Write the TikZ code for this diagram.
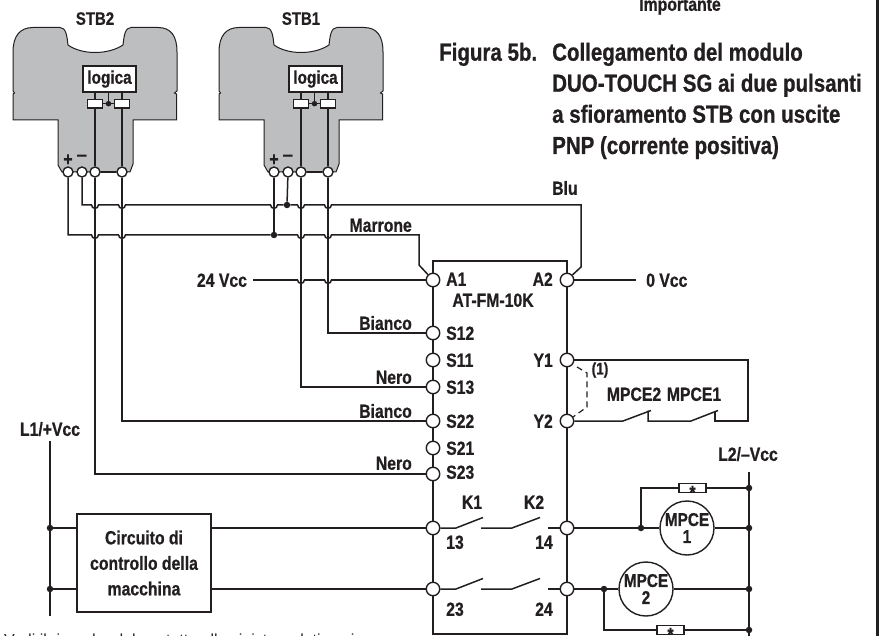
\documentclass[tikz,border=0pt]{standalone}
\usepackage{fontspec}
\setmainfont[FakeStretch=0.83, BoldFeatures={FakeBold=0.7}]{Liberation Sans}
\newfontfamily\plainfont{Liberation Sans}
\usetikzlibrary{positioning}
\definecolor{bodygray}{HTML}{BCBEC0}
\definecolor{inkblack}{HTML}{231F20}
\newcommand{\StarMark}{\raisebox{-11pt}[4pt][4pt]{*}}
\begin{document}
\begin{tikzpicture}[x = 1pt, y = -1pt,
                        wire/.style = {color = inkblack, line width = 1.5pt},
                        thin_wire/.style = {color = inkblack, line width = 1.2pt},
                        term/.style = {circle, draw = inkblack, fill = white, line width = 1.4pt, minimum size = 13.5pt, inner sep = 0pt},
                        small_term/.style = {term, minimum size = 10pt},
                        dot/.style = {circle, fill = inkblack, minimum size = 6.5pt, inner sep = 0pt},
                        relay/.style = {draw = inkblack, fill = white, line width = 1.3pt, minimum width = 15pt, minimum height = 8.5pt, inner sep = 0pt},
                        resistor/.style = {draw = inkblack, fill = white, line width = 1.4pt, minimum width = 27pt, minimum height = 9.5pt, inner sep = 0pt, text = inkblack, font = \fontsize{19}{19}\selectfont\bfseries},
                        coil/.style = {circle, draw = inkblack, fill = white, line width = 1.4pt, minimum size = 54pt, inner sep = 0pt, align = center, text = inkblack, font = \fontsize{18.5}{17}\selectfont\bfseries},
                        label/.style = {color = inkblack, inner sep = 0pt, text height = 13.6pt, text depth = 0pt, font = \fontsize{19}{21}\selectfont\bfseries},
                        title_label/.style = {color = inkblack, inner sep = 0pt, anchor = base west, font = \fontsize{24.7}{28}\selectfont\bfseries},
                        pin_left/.style = {label, anchor = west},
                        pin_right/.style = {label, anchor = east}]
        \useasboundingbox (0,0) rectangle (880,636);
        \clip (0,0) rectangle (880,636);
        % right margin rule
        \coordinate (ruleTop) at (877.7,0);
        \coordinate (ruleEnd) at (877.7,636);
        \draw[color = inkblack, line width = 2.5pt] (ruleTop) -- (ruleEnd);
        % heading
        \node[label] (importante) at (680,4) {Importante};
        \node[title_label] (figura) at (439,60.7) {Figura 5b.};
        \node[title_label] (title1) at (552,60.7) {Collegamento del modulo};
        \node[title_label] (title2) at (552,91.7) {DUO-TOUCH SG ai due pulsanti};
        \node[title_label] (title3) at (552,122.7) {a sfioramento STB con uscite};
        \node[title_label] (title4) at (552,154) {PNP (corrente positiva)};
        % the two touch buttons
        \foreach \Name/\Xoff in {2/0, 1/206}{
            \begin{scope}[xshift = \Xoff pt]
                \draw[fill = bodygray, draw = inkblack, line width = 1pt]
                    (13,120) -- (13,94) -- (14.5,93) -- (13,91) -- (13,52)
                    .. controls (13,36) and (20,27.5) .. (33,27.5) -- (60,27.5)
                    .. controls (66,27.5) and (67,36) .. (68,45)
                    .. controls (82,55) and (108,55) .. (123,45)
                    .. controls (124,36) and (125,27.5) .. (131,27.5) -- (158,27.5)
                    .. controls (171,27.5) and (177,36) .. (177,52) -- (177,91)
                    -- (174.5,93) -- (176.5,94) -- (176.5,120) -- (133,120) -- (133,164)
                    -- (130,172) -- (62,172) -- (58,165) -- (58,120) -- cycle;
            \end{scope}
            \node[label, font = \fontsize{18}{20}\selectfont\bfseries] (stb\Name) at (\Xoff+95,18) {STB\Name};
            \node[draw = inkblack, fill = white, line width = 1.3pt, minimum width = 53pt, minimum height = 26pt, inner sep = 0pt, font = \fontsize{18.5}{18}\selectfont\bfseries, text = inkblack] (logica\Name) at (\Xoff+109.5,79) {logica};
            \node[relay] (relayA\Name) at (\Xoff+95,103.7) {};
            \node[relay] (relayB\Name) at (\Xoff+122,103.7) {};
            \node[dot, minimum size = 5.5pt] (relayDot\Name) at (\Xoff+108.5,103.7) {};
            \node[small_term] (plus\Name) at (\Xoff+68,172) {};
            \node[small_term] (minus\Name) at (\Xoff+82,172) {};
            \node[small_term] (outA\Name) at (\Xoff+95,172) {};
            \node[small_term] (outB\Name) at (\Xoff+122,172) {};
            \node[color = inkblack, inner sep = 0pt, font = \fontsize{19}{19}\selectfont\bfseries] (plusSign\Name) at (\Xoff+68,160) {+};
            \node[color = inkblack, inner sep = 0pt, font = \fontsize{19}{19}\selectfont\bfseries] (minusSign\Name) at (\Xoff+82,159) {\plainfont\bfseries −};
            \draw[thin_wire] (relayA\Name) -- (relayB\Name);
            \draw[thin_wire] (relayDot\Name) -- (relayDot\Name |- logica\Name.south);
            \draw[thin_wire] (relayA\Name |- logica\Name.south) -- (relayA\Name.north);
            \draw[thin_wire] (relayB\Name |- logica\Name.south) -- (relayB\Name.north);
            \draw[wire] (relayA\Name.south) -- (outA\Name);
            \draw[wire] (relayB\Name.south) -- (outB\Name);
            \draw[wire] (outA\Name) -- (outB\Name);
        }
        % module
        \draw[wire] (433,261) -- (567,261) -- (567,634) -- (433,634) -- cycle;
        \foreach \Name/\Ycoor in {A1/280, S12/333, S11/360, S13/387, S22/421, S21/448, S23/474, T13/528, T23/589}
            \node[term] (\Name) at (433,\Ycoor) {};
        \foreach \Name/\Ycoor in {A2/280, Y1/360, Y2/421, T14/528, T24/589}
            \node[term] (\Name) at (567,\Ycoor) {};
        \foreach \Name/\Ycoor in {A1/279, S12/333, S11/360, S13/387, S22/421, S21/448, S23/472}
            \node[pin_left] (lab\Name) at (446,\Ycoor) {\Name};
        \foreach \Name/\Ycoor in {A2/279, Y1/360, Y2/421}
            \node[pin_right] (lab\Name) at (553,\Ycoor) {\Name};
        \node[label] (model) at (493,300) {AT-FM-10K};
        % supply buses
        \coordinate (busNeg) at (581,205);
        \coordinate (busPos) at (419,235);
        \coordinate (busNegBend) at (581,267);
        \coordinate (busPosBend) at (419,265);
        \node[dot] (dotNeg) at (287,205) {};
        \node[dot] (dotPos) at (274,235) {};
        \node[label] (vcc24) at (222,280) {24 Vcc};
        \node[pin_left] (vcc0) at (646,280) {0 Vcc};
        \draw[wire] (plus2) |- (dotPos) -- (busPos) -- (busPosBend) -- (A1);
        \draw[wire] (minus2) |- (dotNeg) -- (busNeg) -- (busNegBend) -- (A2);
        \draw[wire] (plus1) -- (dotPos);
        \draw[wire] (minus1) -- (dotNeg);
        \draw[wire] (vcc24.east) ++(6,0) -- (A1);
        \draw[wire] (A2) -- (636,280);
        \draw[wire] (outB1) |- (S12);
        \draw[wire] (outA1) |- (S13);
        \draw[wire] (outB2) |- (S22);
        \draw[wire] (outA2) |- (S23);
        % wire hops
        \foreach \Xcoor/\Ycoor in {95/205, 122/205, 274/205, 301/205, 328/205,
                                   95/235, 122/235, 301/235, 328/235, 301/280, 328/280}{
            \draw[white, line width = 2.2pt] (\Xcoor - 3,\Ycoor) -- (\Xcoor + 3,\Ycoor);
            \draw[wire] (\Xcoor - 3.4,\Ycoor) arc[start angle = 180, end angle = 0, radius = 3.4];
        }
        \foreach \Xcoor/\Ycoor in {95/205, 122/205, 274/205, 301/205, 328/205,
                                   95/235, 122/235, 301/235, 328/235, 301/280, 328/280}
            \draw[wire] (\Xcoor,\Ycoor - 5) -- (\Xcoor,\Ycoor + 5);
        \node[pin_right] (marrone) at (412,225) {Marrone};
        \node[pin_left] (blu) at (552,188) {Blu};
        \node[pin_right] (bianco1) at (412,323) {Bianco};
        \node[pin_right] (nero1) at (412,377) {Nero};
        \node[pin_right] (bianco2) at (412,411) {Bianco};
        \node[pin_right] (nero2) at (412,463) {Nero};
        % Y1 Y2 loop
        \coordinate (loopTop) at (748,360);
        \coordinate (loopBottom) at (748,421);
        \draw[wire] (Y1) -- (loopTop) -- (loopBottom) -- (715,421) -- (715,410.5);
        \draw[wire] (718,410.5) -- (691,421) -- (648,421) -- (648,410.5);
        \draw[wire] (651,410.5) -- (623,421) -- (Y2);
        \draw[thin_wire, dashed, dash pattern = on 6pt off 4pt] (577,367) -- (587,373) -- (587,407) -- (573,417);
        \node[color = inkblack, inner sep = 0pt, font = \fontsize{16.5}{18}\selectfont\bfseries] (note) at (600,370) {(1)};
        \node[label] (mpce2Lab) at (634,394) {MPCE2};
        \node[label] (mpce1Lab) at (694,394) {MPCE1};
        % line L1
        \node[label] (l1) at (50,429) {L1/+Vcc};
        \coordinate (l1Top) at (50,441);
        \coordinate (l1End) at (50,616);
        \draw[wire] (l1Top) -- (l1End);
        \node[dot] (dotL1a) at (50,528) {};
        \node[dot] (dotL1b) at (50,589) {};
        \node[draw = inkblack, fill = white, line width = 1.5pt, minimum width = 134pt, minimum height = 98pt, inner sep = 0pt, align = center, text = inkblack, font = \fontsize{19}{25.5}\selectfont\bfseries] (control) at (144,563) {Circuito di\\controllo della\\macchina};
        \draw[wire] (dotL1a) -- (control.west |- dotL1a);
        \draw[wire] (dotL1b) -- (control.west |- dotL1b);
        \draw[wire] (control.east |- T13) -- (T13);
        \draw[wire] (control.east |- T23) -- (T23);
        % relay contacts
        \foreach \Ycoor/\Xa/\Xb in {528/T13/T14, 589/T23/T24}{
            \draw[wire] (\Xa) -- (456,\Ycoor) -- (483,\Ycoor - 10.5);
            \draw[wire] (481,\Ycoor) -- (512,\Ycoor) -- (540,\Ycoor - 10.5);
            \draw[wire] (548,\Ycoor) -- (\Xb);
        }
        \node[label] (k1) at (472,502) {K1};
        \node[label] (k2) at (534,502) {K2};
        \node[label] (n13) at (455,542) {13};
        \node[label] (n14) at (544,542) {14};
        \node[label] (n23) at (455,609) {23};
        \node[label] (n24) at (544,609) {24};
        % line L2 with the two coils
        \node[label] (l2) at (748,454) {L2/–Vcc};
        \coordinate (l2Top) at (749,472);
        \coordinate (l2End) at (749,636);
        \draw[wire] (l2Top) -- (l2End);
        \foreach \Name/\Ycoor in {A/488, B/528, C/589, D/630}
            \node[dot] (dotL2\Name) at (749,\Ycoor) {};
        \node[dot] (dotCoil1) at (641,528) {};
        \node[dot] (dotCoil2) at (604,589) {};
        \node[coil] (coil1) at (687,528) {MPCE\\1};
        \node[coil] (coil2) at (646,589) {MPCE\\2};
        \draw[wire] (T14) -- (dotCoil1) -- (coil1) -- (dotL2B);
        \draw[wire] (T24) -- (dotCoil2) -- (coil2) -- (dotL2C);
        \node[resistor] (res1) at (692.5,488) {\StarMark};
        \node[resistor] (res2) at (670.5,630) {\StarMark};
        \draw[wire] (dotCoil1) |- (res1) -- (dotL2A);
        \draw[wire] (dotCoil2) |- (res2) -- (dotL2D);
        % clipped footnote
        \node[color = inkblack, inner sep = 0pt, anchor = base west, font = \plainfont\fontsize{16}{16}\selectfont] (footnote) at (4,645) {Vedi il riquadro del contatto alla sinistra relativo ai};
    \end{tikzpicture}
\end{document}
